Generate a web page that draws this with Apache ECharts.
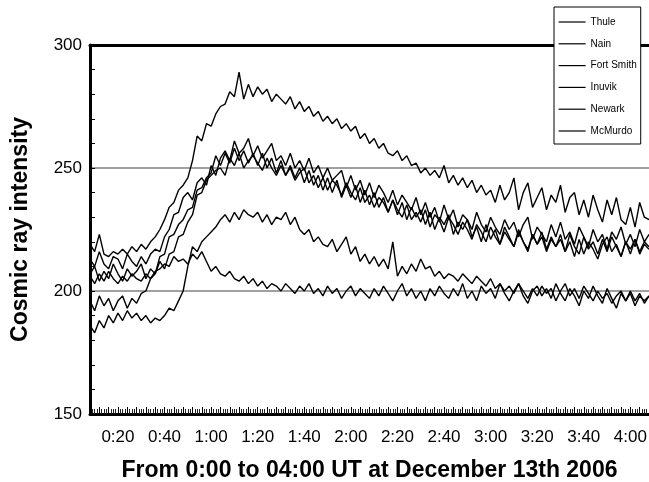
<!DOCTYPE html>
<html>
<head>
<meta charset="utf-8">
<title>Cosmic ray intensity</title>
<script src="https://cdn.jsdelivr.net/npm/echarts@6/dist/echarts.min.js"></script>
<style>
  html, body { margin: 0; padding: 0; background: #fff; }
  #chart { width: 649px; height: 482px; }
</style>
</head>
<body>
<div id="chart"></div>
<script>
// samples every 2 minutes, from 0:08 to 4:08 UT
const startMinute = 8
const stepMinutes = 2

const stations = ['Thule', 'Nain', 'Fort Smith', 'Inuvik', 'Newark', 'McMurdo']

const thule = [219,
  216, 223, 215, 214, 216,  215, 217, 215, 218, 216,  219, 217, 220, 222, 225,
  229, 234, 236, 241, 243,  246, 253, 263, 261, 268,  267, 272, 275, 276, 281,
  279, 289, 278, 284, 279,  283, 280, 282, 277, 280,  278, 276, 279, 274, 277,
  273, 275, 271, 273, 269,  271, 268, 270, 266, 268,  265, 267, 262, 264, 260,
  262, 258, 260, 256, 255,  257, 253, 255, 251, 252,  248, 250, 247, 249, 246,
  251, 244, 247, 243, 246,  242, 245, 240, 243, 239,  241, 236, 243, 237, 240,
  246, 233, 240, 244, 234,  238, 242, 233, 239, 236,  243, 232, 238, 240, 231,
  237, 230, 239, 233, 228,  237, 231, 238, 229, 227,  234, 226, 236, 230, 229]

const nain = [213,
  210, 216, 211, 209, 214,  213, 209, 215, 212, 210,  214, 211, 215, 217, 216,
  222, 225, 231, 232, 238,  240, 237, 244, 246, 243,  251, 247, 254, 257, 253,
  261, 256, 258, 262, 255,  259, 254, 257, 260, 253,  255, 251, 256, 250, 253,
  249, 254, 248, 251, 246,  250, 245, 247, 249, 242,  247, 241, 245, 239, 244,
  238, 243, 240, 236, 241,  235, 239, 236, 233, 238,  231, 236, 230, 234, 228,
  235, 229, 233, 226, 231,  229, 225, 232, 227, 224,  230, 226, 223, 229, 225,
  228, 222, 227, 230, 221,  226, 223, 220, 227, 222,  228, 221, 224, 219, 226,
  222, 218, 225, 220, 223,  217, 224, 221, 226, 219,  223, 218, 225, 220, 223]

const fortSmith = [207,
  210, 204, 208, 205, 211,  207, 204, 209, 206, 208,  211, 205, 209, 207, 212,
  209, 215, 216, 222, 223,  228, 231, 239, 240, 245,  247, 249, 250, 247, 254,
  251, 256, 250, 253, 255,  252, 249, 254, 250, 247,  251, 247, 250, 245, 248,
  250, 244, 247, 242, 246,  241, 245, 243, 239, 244,  240, 237, 242, 236, 239,
  234, 238, 236, 232, 237,  233, 230, 235, 229, 232,  228, 233, 226, 231, 229,
  224, 230, 227, 223, 228,  225, 221, 227, 224, 220,  226, 222, 219, 224, 221,
  218, 225, 220, 216, 223,  219, 224, 217, 222, 218,  221, 216, 223, 218, 215,
  222, 217, 220, 215, 221,  216, 222, 218, 214, 220,  217, 221, 215, 219, 217]

const inuvik = [196,
  192, 198, 194, 197, 192,  196, 198, 193, 197, 195,  199, 200, 205, 207, 214,
  215, 222, 223, 227, 229,  233, 234, 241, 242, 246,  248, 255, 251, 256, 252,
  258, 253, 257, 252, 256,  251, 256, 250, 254, 248,  253, 247, 251, 246, 250,
  244, 249, 243, 247, 241,  246, 240, 245, 238, 243,  238, 243, 236, 241, 235,
  240, 234, 238, 232, 237,  231, 236, 229, 234, 230,  233, 227, 232, 225, 230,
  227, 231, 223, 228, 225,  229, 222, 226, 220, 227,  221, 225, 219, 226, 222,
  218, 224, 220, 217, 223,  219, 222, 216, 221, 218,  223, 216, 220, 214, 221,
  215, 220, 217, 213, 219,  222, 216, 219, 214, 220,  215, 221, 216, 220, 218]

const newark = [186,
  183, 188, 185, 190, 187,  191, 188, 192, 189, 191,  188, 190, 187, 189, 188,
  190, 193, 192, 196, 200,  210, 218, 216, 220, 222,  224, 226, 229, 231, 228,
  232, 229, 233, 231, 230,  232, 228, 231, 227, 230,  229, 232, 227, 230, 225,
  223, 225, 220, 222, 219,  218, 221, 216, 219, 222,  215, 218, 212, 215, 211,
  214, 210, 213, 209, 220,  206, 210, 207, 211, 208,  213, 209, 210, 206, 208,
  205, 207, 206, 204, 207,  205, 203, 206, 204, 202,  205, 201, 203, 200, 202,
  199, 203, 200, 197, 201,  198, 202, 199, 201, 196,  200, 203, 198, 201, 197,
  202, 199, 196, 200, 197,  199, 195, 198, 200, 196,  199, 194, 198, 196, 198]

const mcmurdo = [206,
  203, 207, 204, 208, 205,  203, 206, 204, 207, 205,  204, 207, 205, 208, 209,
  211, 210, 214, 212, 213,  211, 215, 213, 216, 212,  208, 210, 207, 206, 208,
  205, 204, 206, 203, 205,  202, 204, 201, 203, 202,  200, 203, 201, 199, 202,
  200, 203, 199, 201, 198,  202, 199, 201, 197, 200,  202, 198, 201, 199, 197,
  201, 198, 202, 199, 196,  200, 203, 198, 201, 197,  200, 196, 201, 198, 202,
  199, 197, 201, 198, 203,  197, 200, 196, 202, 199,  201, 197, 203, 199, 196,
  200, 203, 198, 195, 200,  202, 198, 201, 197, 203,  199, 196, 201, 198, 194,
  200, 197, 202, 198, 195,  201, 197, 193, 199, 196,  200, 196, 199, 195, 198]

const seriesValues = [thule, nain, fortSmith, inuvik, newark, mcmurdo]

const fontFamily = '"Liberation Sans", Arial, Helvetica, sans-serif'

function timeLabel(m) {
  if (m % 20 !== 0) return ''
  const mm = m % 60
  return Math.floor(m / 60) + ':' + (mm < 10 ? '0' + mm : mm)
}

const chart = echarts.init(document.getElementById('chart'))

const option = {
  animation: false,
  backgroundColor: '#fff',
  textStyle: { fontFamily: fontFamily },
  grid: { left: 90, right: 0, top: 45, bottom: 68, containLabel: false, outerBoundsMode: 'none' },
  legend: {
    orient: 'vertical',
    left: 554,
    top: 7,
    padding: [10, 4, 8, 4],
    itemWidth: 27,
    itemHeight: 12,
    itemGap: 11.8,
    backgroundColor: '#fff',
    borderColor: '#000',
    borderWidth: 1,
    textStyle: { fontSize: 10, color: '#000', fontFamily: fontFamily },
    // line only, no marker in the key
    itemStyle: { color: 'transparent', borderWidth: 0 },
    lineStyle: { width: 1.2 },
    data: stations
  },
  xAxis: [
    {
      type: 'value',
      min: 8,
      max: 248,
      interval: 4,
      name: 'From 0:00 to 04:00 UT at December 13th 2006',
      nameLocation: 'middle',
      nameGap: 45,
      nameTextStyle: { fontSize: 23, fontWeight: 'bold', color: '#000', fontFamily: fontFamily },
      axisLine: { lineStyle: { color: '#000', width: 3 } },
      axisTick: { inside: true, length: 7, lineStyle: { color: '#000', width: 1 } },
      minorTick: { show: true, splitNumber: 4, length: 5, lineStyle: { color: '#222', width: 1 } },
      axisLabel: { fontSize: 17, color: '#000', margin: 15, formatter: timeLabel },
      splitLine: { show: false }
    },
    {
      type: 'value',
      position: 'top',
      min: 8,
      max: 248,
      axisLine: { show: true, lineStyle: { color: '#000', width: 3 } },
      axisTick: { show: false },
      axisLabel: { show: false },
      splitLine: { show: false }
    }
  ],
  yAxis: {
    type: 'value',
    min: 150,
    max: 300,
    interval: 50,
    name: 'Cosmic ray intensity',
    nameLocation: 'middle',
    nameRotate: 90,
    nameGap: 58,
    nameTextStyle: { fontSize: 23, fontWeight: 'bold', color: '#000', fontFamily: fontFamily },
    axisLine: { show: true, lineStyle: { color: '#000', width: 3 } },
    axisTick: { inside: true, length: 5, lineStyle: { color: '#000' } },
    minorTick: { show: true, splitNumber: 5, length: 5, lineStyle: { color: '#000' } },
    axisLabel: { fontSize: 17, color: '#000', margin: 8 },
    splitLine: { show: true, lineStyle: { color: '#808080', width: 1.5 } }
  },
  series: stations.map((name, k) => ({
    name: name,
    type: 'line',
    symbol: 'none',
    lineStyle: { color: '#000', width: 1.4 },
    itemStyle: { color: '#000' },
    data: seriesValues[k].map((v, i) => [startMinute + i * stepMinutes, v])
  }))
}

chart.setOption(option)
</script>
</body>
</html>
